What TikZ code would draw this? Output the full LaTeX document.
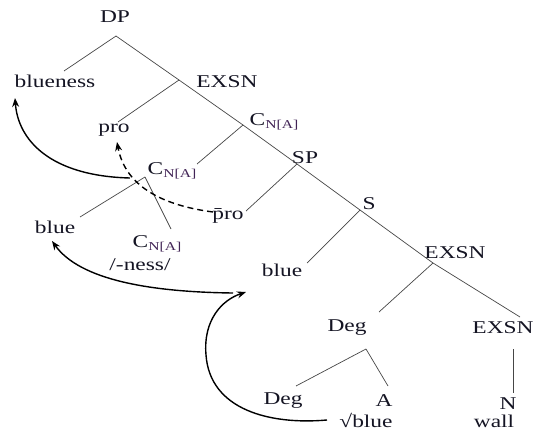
\documentclass[tikz,border=0pt]{standalone}
\usepackage{fontspec}
\setmainfont{Liberation Serif}[FakeStretch=1.3]
\usetikzlibrary{arrows.meta}
\definecolor{treeline}{RGB}{70,70,70}
\definecolor{subc}{RGB}{65,35,85}
\definecolor{txt}{RGB}{20,20,35}
\newcommand{\CNA}{C\raisebox{-3pt}{\fontsize{12}{12}\selectfont\color{subc}N[A]}}
\begin{document}
\begin{tikzpicture}[x=1pt,y=-1pt,
  lbl/.style={inner sep=0pt,text=txt,font=\fontsize{18}{20}\selectfont},
  br/.style={draw=treeline,line width=0.7pt},
  mv/.style={line width=1.4pt,-{Stealth[length=9pt,width=7pt]}}]
\useasboundingbox (0,0) rectangle (534,433);
% labels
\node[lbl] (dp) at (115,17) {DP};
\node[lbl] (blueness) at (55,81) {blueness};
\node[lbl] (exsn1) at (227,82) {EXSN};
\node[lbl] (pro1) at (114,130) {pro};
\node[lbl] (cna1) at (274,122) {\CNA};
\node[lbl] (cna2) at (172,171) {\CNA};
\node[lbl] (sp) at (305,158) {SP};
\node[lbl] (pro2) at (228,216) {\=pro};
\node[lbl] (s) at (369,204) {S};
\node[lbl] (blue1) at (55,227) {blue};
\node[lbl] (cna3) at (157,244) {\CNA};
\node[lbl] (ness) at (140,265) {/-ness/};
\node[lbl] (blue2) at (282,270) {blue};
\node[lbl] (exsn2) at (455,253) {EXSN};
\node[lbl] (deg1) at (347,328) {Deg};
\node[lbl] (exsn3) at (503,328) {EXSN};
\node[lbl] (deg2) at (283,401) {Deg};
\node[lbl] (a) at (384,401) {A};
\node[lbl] (root) at (366,420) {√blue};
\node[lbl] (n) at (508,404) {N};
\node[lbl] (wall) at (494,421) {wall};
% junctions
\coordinate (v0) at (116,36);
\coordinate (blT) at (64,71);
\coordinate (j1) at (179,80);
\coordinate (j2) at (243,125);
\coordinate (j3) at (297,164);
\coordinate (j4) at (360,210);
\coordinate (j5) at (433,263);
\coordinate (ex3T) at (520,317);
\coordinate (pro1T) at (118,122);
\coordinate (cna2T) at (197,164);
\coordinate (v2) at (145,177);
\coordinate (blue1T) at (80,217);
\coordinate (cna3T) at (171,229);
\coordinate (pro2T) at (246,211);
\coordinate (blue2T) at (307,263);
\coordinate (deg1T) at (379,312);
\coordinate (v3) at (366,349);
\coordinate (deg2T) at (296,386);
\coordinate (aT) at (388,386);
\coordinate (ex3B) at (513,349);
\coordinate (nT) at (513,393);
% tree branches
\draw[br] (v0) -- (blT);
\draw[br] (v0) -- (j1) -- (j2) -- (j3) -- (j4) -- (j5) -- (ex3T);
\draw[br] (j1) -- (pro1T);
\draw[br] (j2) -- (cna2T);
\draw[br] (v2) -- (blue1T);
\draw[br] (v2) -- (cna3T);
\draw[br] (j3) -- (pro2T);
\draw[br] (j4) -- (blue2T);
\draw[br] (j5) -- (deg1T);
\draw[br] (v3) -- (deg2T);
\draw[br] (v3) -- (aT);
\draw[br] (ex3B) -- (nT);
% movement arrows
\coordinate (a1s) at (130,178);
\coordinate (a1e) at (15,98);
\coordinate (a2s) at (213,212);
\coordinate (a2e) at (117,142);
\coordinate (a3s) at (233,293);
\coordinate (a3e) at (52,241);
\coordinate (a4s) at (327,420);
\coordinate (a4m) at (206,355);
\coordinate (a4e) at (246,292);
\draw[mv] (a1s) .. controls (50,176) and (18,140) .. (a1e);
\draw[mv,dashed,dash pattern=on 6pt off 4pt] (a2s) .. controls (160,205) and (125,185) .. (a2e);
\draw[mv] (a3s) .. controls (150,292) and (80,280) .. (a3e);
\draw[mv] (a4s) .. controls (270,425) and (210,410) .. (a4m) .. controls (203,320) and (222,300) .. (a4e);
\end{tikzpicture}
\end{document}
